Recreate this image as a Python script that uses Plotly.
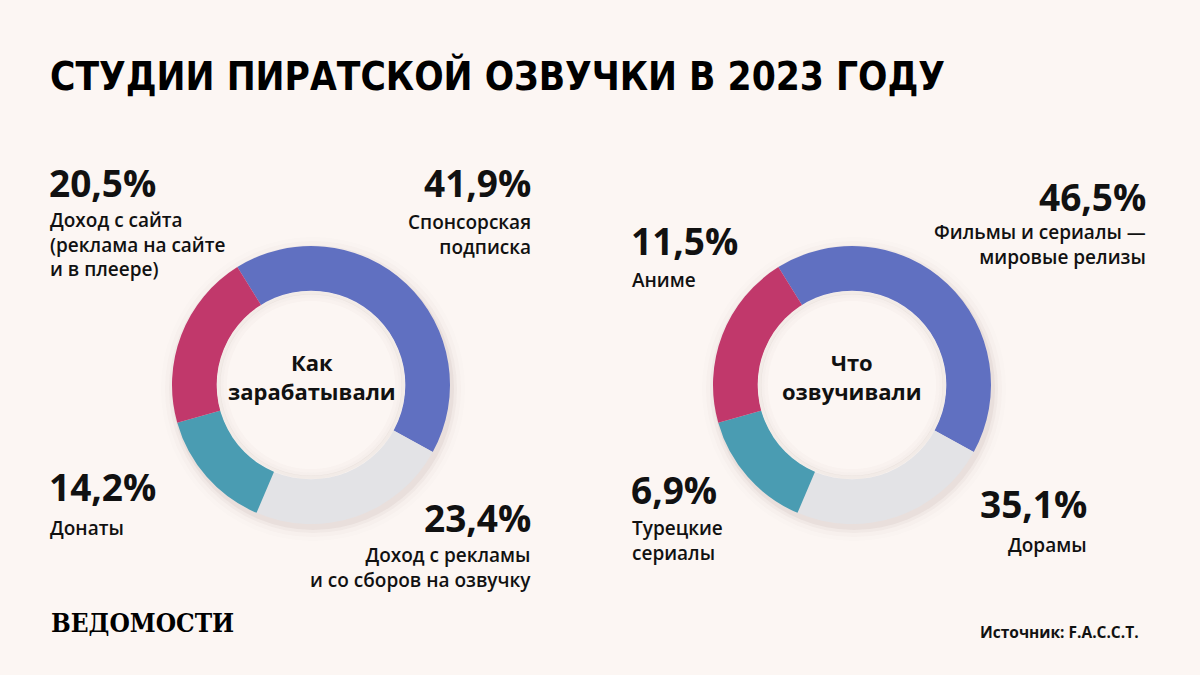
import plotly.graph_objects as go

W, H = 1200, 675
BG = "#FCF6F3"

title_text = "СТУДИИ ПИРАТСКОЙ ОЗВУЧКИ В 2023 ГОДУ"
source_text = "Источник: F.A.C.C.T."
logo_text = "ВЕДОМОСТИ"

# ---- Left ring: how studios earned money ----
income_center = "Как<br>зарабатывали"
income_categories = [
    "Спонсорская<br>подписка",
    "Доход с рекламы<br>и со сборов на озвучку",
    "Донаты",
    "Доход с сайта<br>(реклама на сайте<br>и в плеере)",
]
income_values = [41.9, 23.4, 14.2, 20.5]

# ---- Right ring: what studios dubbed ----
content_center = "Что<br>озвучивали"
content_categories = [
    "Фильмы и сериалы —<br>мировые релизы",
    "Дорамы",
    "Турецкие<br>сериалы",
    "Аниме",
]
content_values = [46.5, 35.1, 6.9, 11.5]
# arc shares as actually drawn in the reference's right ring
# (the source graphic repeats the left ring's proportions)
content_ring_shares = [41.9, 23.4, 14.2, 20.5]

slice_colors = ["#6070C1", "#E3E3E6", "#4A9CB2", "#C1386B"]


def fmt(v):
    return f"{v:.1f}".replace(".", ",") + "%"


def px(x):
    return x / W


def py(y):
    return 1 - y / H


R = 139
HOLE = 0.675
RIN = R * HOLE
rings = [
    (income_values, 311, 385, "income"),
    (content_ring_shares, 852, 385, "content"),
]


def circ(cx, cy, rr, layer, fill="rgba(0,0,0,0)", line=None, ox=0, oy=0):
    return dict(type="circle", xref="paper", yref="paper", layer=layer,
                x0=px(cx - rr + ox), x1=px(cx + rr + ox),
                y0=py(cy + rr + oy), y1=py(cy - rr + oy),
                fillcolor=fill, line=line or dict(width=0))


fig = go.Figure()
shapes = []
for vals, cx, cy, name in rings:
    fig.add_trace(go.Pie(
        values=vals,
        labels=[f"{name}{i}" for i in range(len(vals))],
        hole=HOLE,
        sort=False,
        direction="clockwise",
        rotation=-32,
        marker=dict(colors=slice_colors, line=dict(width=0)),
        textinfo="none",
        hoverinfo="skip",
        showlegend=False,
        domain=dict(x=[px(cx - R), px(cx + R)], y=[py(cy + R), py(cy - R)]),
    ))
    # soft outer shadow (below the ring)
    for dr, op in [(2, 0.05), (5, 0.035), (9, 0.02), (13, 0.012)]:
        shapes.append(circ(cx, cy, R + dr, "below",
                           fill=f"rgba(90,60,50,{op})", ox=2, oy=4))
    # keep the hole in the page colour
    shapes.append(circ(cx, cy, RIN + 0.5, "above", fill=BG))
    # soft inner shadow inside the hole
    for dr, op in [(1.5, 0.06), (4.5, 0.035), (8, 0.018)]:
        shapes.append(circ(cx, cy, RIN - dr, "above",
                           line=dict(width=3.5, color=f"rgba(90,60,50,{op})")))

ann = []
NUM_FONT = dict(family="Open Sans", size=37, color="#111111", weight=700)
LAB_FONT = dict(family="Open Sans", size=19, color="#111111", weight=600)
CEN_FONT = dict(family="Open Sans", size=22, color="#111111", weight=700)


def add(text, x, y, xanchor, font):
    ann.append(dict(text=text, x=px(x), y=py(y), xref="paper", yref="paper",
                    xanchor=xanchor, yanchor="middle", showarrow=False,
                    font=font, align=xanchor if xanchor != "center" else "center"))


# left ring labels: (number y, label y, x, anchor)
income_pos = [
    (183, 234, 532, "right"),
    (517, 567, 532, "right"),
    (486, 528, 50, "left"),
    (183, 245, 50, "left"),
]
for v, cat, (ny, ly, x, a) in zip(income_values, income_categories, income_pos):
    add(fmt(v), x + 1 if a == "right" else x - 3, ny, a, NUM_FONT)
    add(cat, x + 1 if a == "right" else x - 2, ly, a, LAB_FONT)

content_pos = [
    (196, 245, 1147, "right"),
    (503, 545, 1088, "right"),
    (489, 540, 632, "left"),
    (240, 280, 632, "left"),
]
for v, cat, (ny, ly, x, a) in zip(content_values, content_categories, content_pos):
    add(fmt(v), x + 1 if a == "right" else x - 3, ny, a, NUM_FONT)
    add(cat, x + 1 if a == "right" else x - 2, ly, a, LAB_FONT)

add(income_center, 312, 376, "center", CEN_FONT)
add(content_center, 852, 376, "center", CEN_FONT)

add(title_text, 48, 76, "left",
    dict(family="DejaVu Sans Condensed", size=38.5, color="#000000", weight=700))
add(logo_text, 49, 623, "left",
    dict(family="DejaVu Serif Condensed", size=26, color="#000000", weight=700))
add(source_text, 1141, 632, "right",
    dict(family="Open Sans", size=15.5, color="#111111", weight=700))

fig.update_layout(
    width=W, height=H,
    margin=dict(l=0, r=0, t=0, b=0),
    paper_bgcolor=BG, plot_bgcolor=BG,
    annotations=ann,
    shapes=shapes,
)

fig.write_html("out.html")
